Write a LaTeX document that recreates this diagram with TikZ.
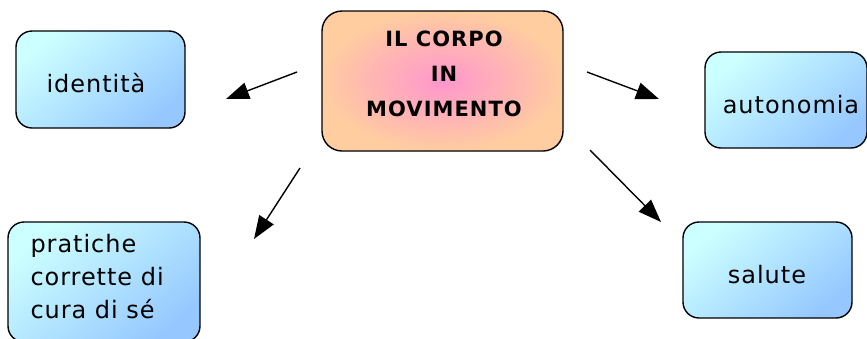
\documentclass[tikz,border=0pt]{standalone}
\usepackage{fontspec}
\setmainfont{DejaVu Sans}
\usetikzlibrary{arrows.meta}
\definecolor{bluetl}{RGB}{204,255,255}
\definecolor{bluebr}{RGB}{150,200,255}
\definecolor{pinkc}{RGB}{255,150,205}
\definecolor{peach}{RGB}{255,205,160}
\tikzset{
  bluebox/.style={draw=black, line width=1.4pt, rounded corners=16pt,
    shading=axis, top color=bluetl, bottom color=bluebr, shading angle=40},
  mainbox/.style={draw=black, line width=1.4pt, rounded corners=20pt,
    inner color=pinkc, outer color=peach},
  btext/.style={anchor=base, font=\fontsize{24}{33}\selectfont\addfontfeature{LetterSpace=4}},
  mtext/.style={anchor=base, font=\fontsize{21}{35}\selectfont\bfseries\addfontfeature{LetterSpace=5}},
  conn/.style={line width=1.4pt, -{Triangle[length=23pt,width=17pt]}}
}
\begin{document}
\begin{tikzpicture}[x=1pt,y=-1pt]
\useasboundingbox (0,0) rectangle (867,338);
\clip (0,0) rectangle (867,338);
% boxes
\node[mainbox, minimum width=241pt, minimum height=140pt] (c) at (442.5,81) {};
\node[bluebox, minimum width=169pt, minimum height=97pt] (id) at (100.5,79.5) {};
\node[bluebox, minimum width=162pt, minimum height=96pt] (au) at (786,100) {};
\node[bluebox, minimum width=169pt, minimum height=96pt] (sa) at (767.5,270) {};
\node[bluebox, minimum width=192pt, minimum height=120pt] (pr) at (104,282) {};
% texts
\node[mtext] (t1) at (444,46) {IL CORPO};
\node[mtext] (t2) at (444,81) {IN};
\node[mtext] (t3) at (444,116) {MOVIMENTO};
\node[btext] (tid) at (96,92) {identità};
\node[btext] (tau) at (791,113) {autonomia};
\node[btext] (tsa) at (767,283) {salute};
\node[btext, anchor=base west] (tp1) at (27,252) {pratiche};
\node[btext, anchor=base west] (tp2) at (27,285) {corrette di};
\node[btext, anchor=base west] (tp3) at (27,318) {cura di sé};
% connectors
\coordinate (a1s) at (297,72);  \coordinate (a1e) at (226,99);
\coordinate (a2s) at (300,168); \coordinate (a2e) at (254,239);
\coordinate (a3s) at (587,72);  \coordinate (a3e) at (659,99);
\coordinate (a4s) at (590,150); \coordinate (a4e) at (661,222);
\draw[conn] (a1s) -- (a1e);
\draw[conn] (a2s) -- (a2e);
\draw[conn] (a3s) -- (a3e);
\draw[conn] (a4s) -- (a4e);
\end{tikzpicture}
\end{document}
